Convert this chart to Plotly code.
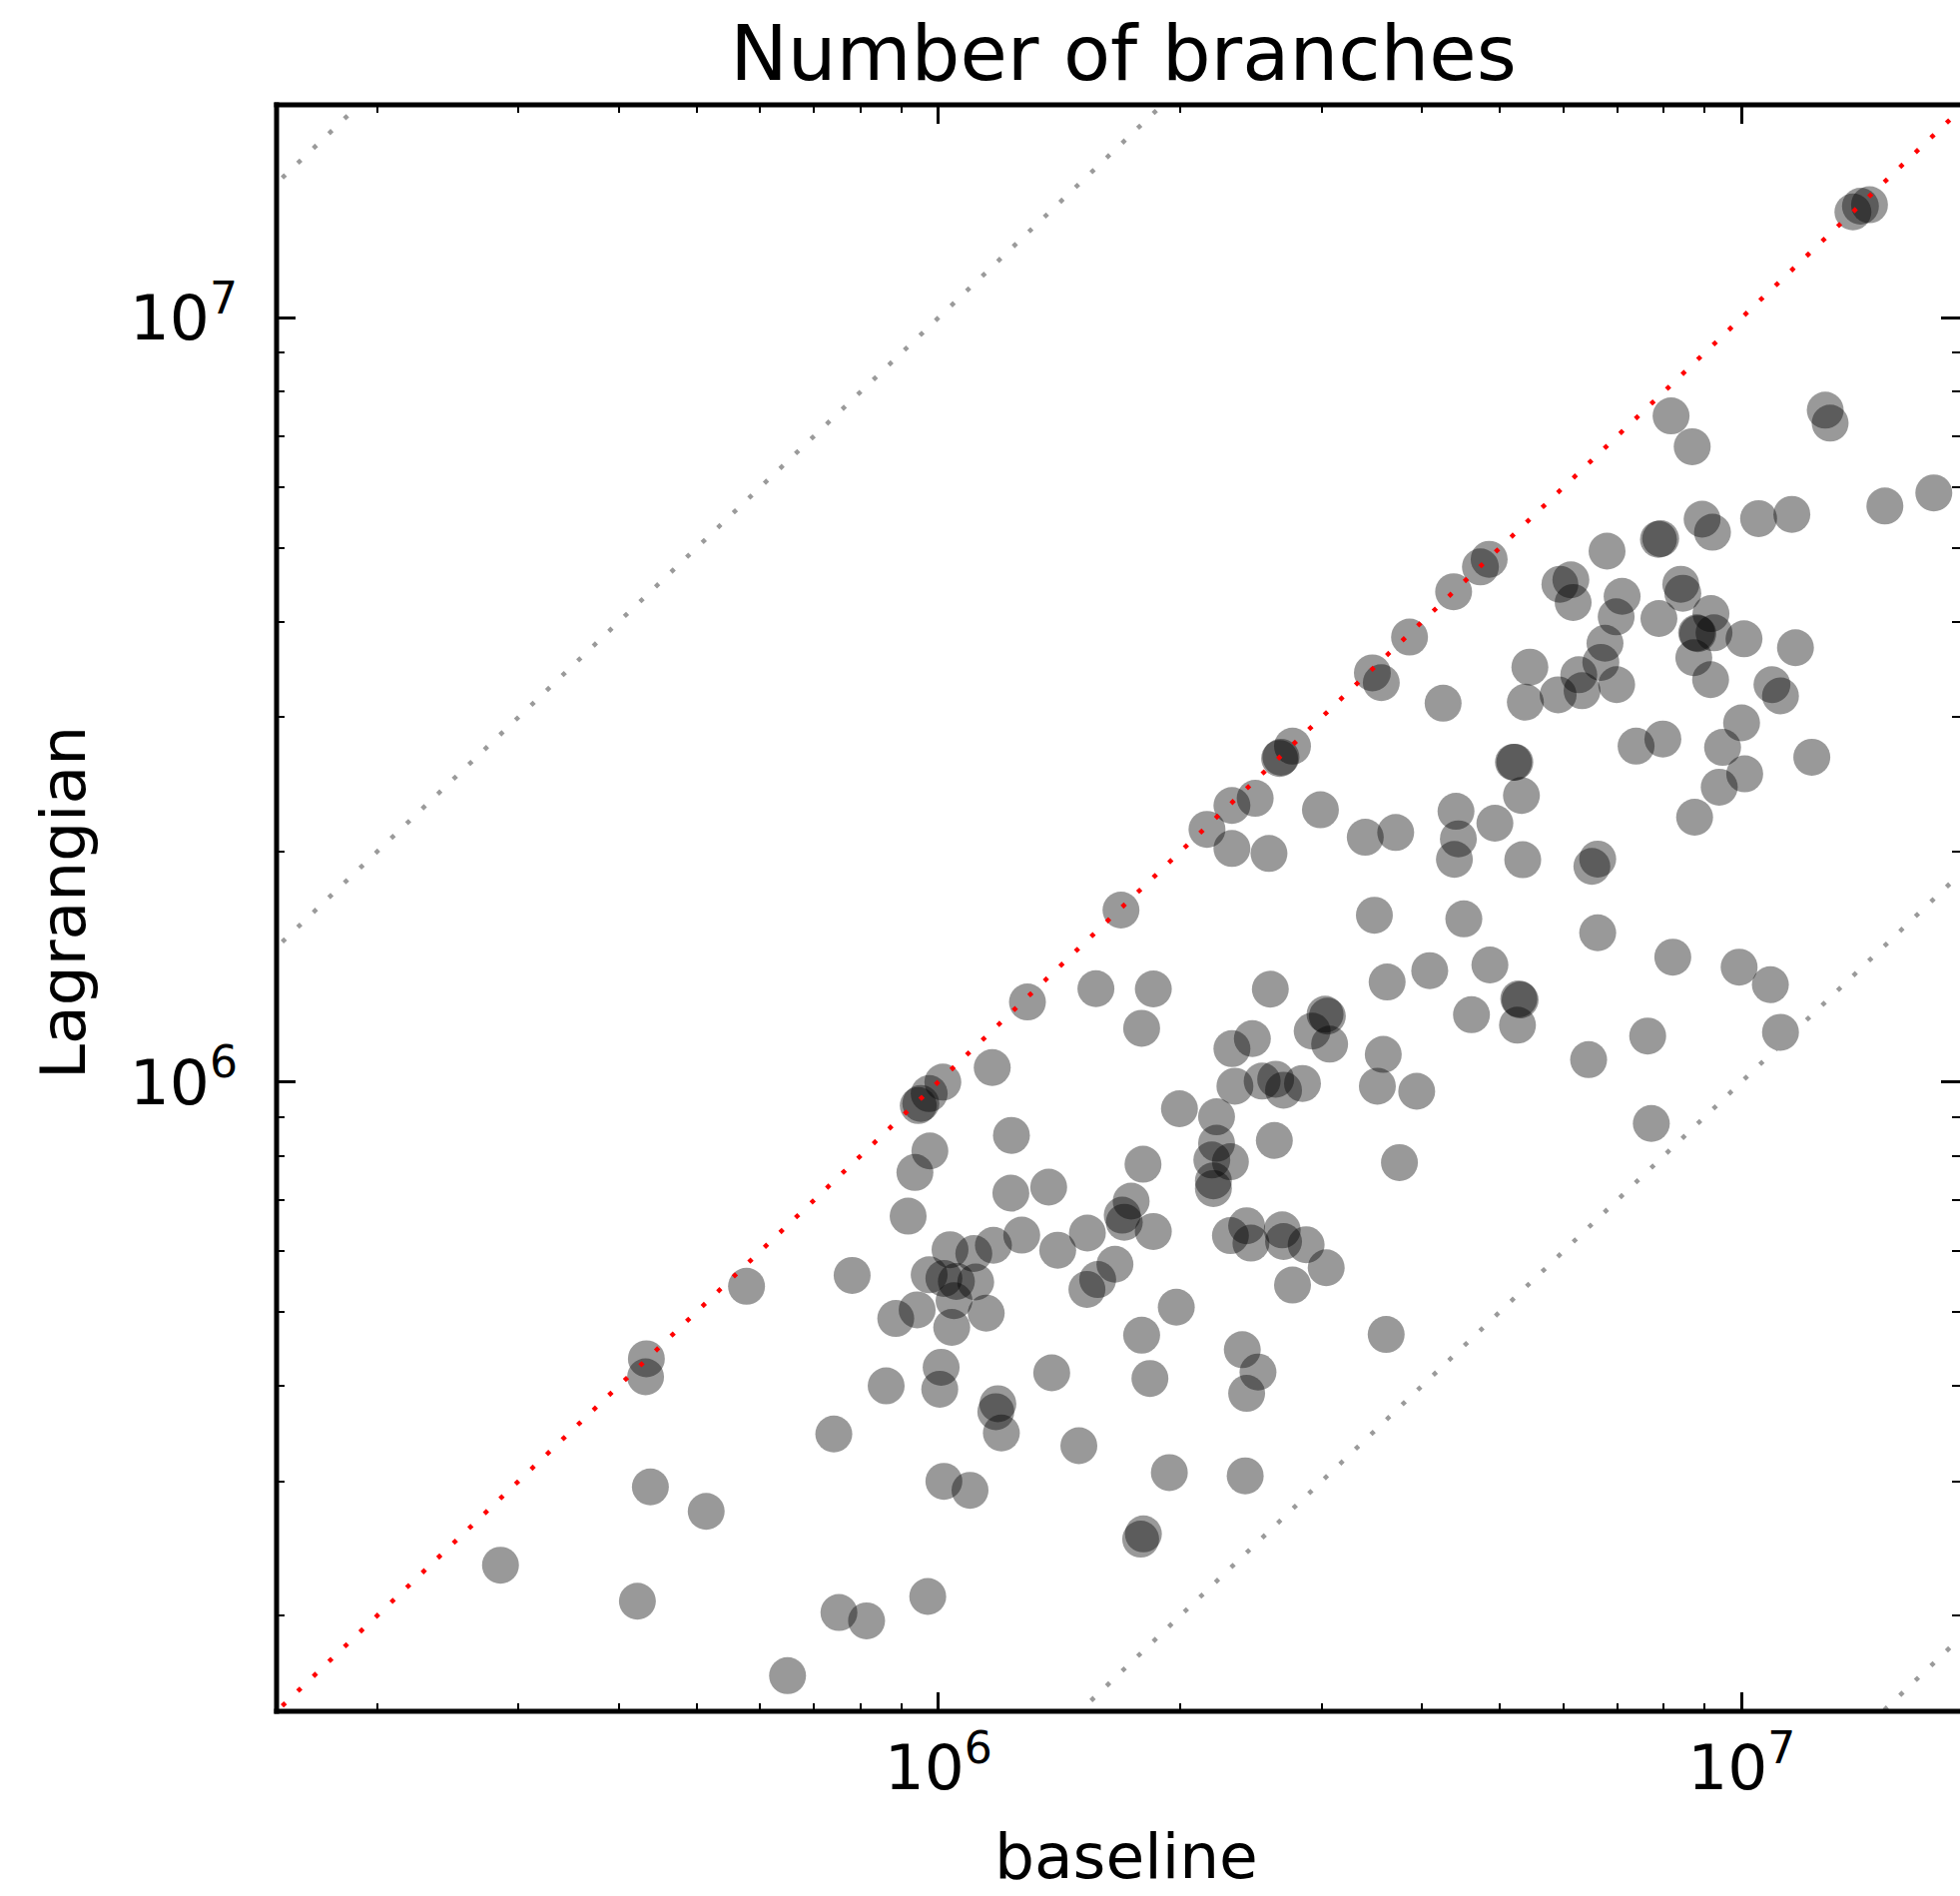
import math
import plotly.graph_objects as go

# ---- data ----
baseline = [
    1.376e7, 1.406e7, 1.443e7,
    8.17e6, 8.68e6, 1.271e7, 1.289e7, 1.735e7, 1.508e7, 1.155e7, 1.050e7, 8.93e6, 9.20e6,
    7.88e6, 7.93e6, 6.80e6, 4.85e6, 4.73e6, 4.38e6, 6.13e6, 5.94e6, 6.17e6, 7.10e6,
    6.98e6, 7.89e6, 8.40e6, 8.45e6, 9.16e6, 8.79e6, 8.82e6, 9.24e6, 8.72e6, 1.007e7,
    1.167e7, 9.15e6, 6.76e6, 6.68e6, 6.27e6, 6.99e6, 6.33e6, 5.91e6, 5.38e6, 5.45e6,
    4.25e6, 1.091e7, 1.118e7, 1.000e7, 9.47e6, 1.009e7, 9.38e6, 1.223e7, 8.74e6, 7.39e6,
    7.98e6, 5.22e6, 5.20e6, 5.32e6, 4.41e6, 4.44e6, 4.39e6, 4.93e6, 5.34e6, 6.62e6, 6.51e6,
    3.86e6, 3.47e6, 3.56e6, 2.76e6, 2.67e6, 2.66e6, 2.48e6, 2.32e6, 2.16e6, 2.32e6,
    2.58e6, 2.99e6, 3.40e6, 3.71e6, 1.688e6, 3.49e6, 4.51e6,
    6.62e6, 2.59e6, 3.62e6, 4.09e6, 4.86e6, 5.28e6, 5.30e6, 5.26e6, 4.61e6, 6.45e6,
    3.03e6, 3.05e6, 2.92e6, 3.07e6, 2.46e6, 2.32e6, 2.34e6, 2.53e6, 2.63e6, 2.69e6,
    2.84e6, 3.58e6, 3.52e6, 3.94e6, 1.996e6, 2.22e6, 2.22e6, 2.19e6, 2.31e6, 2.20e6,
    2.20e6, 2.62e6, 3.75e6, 2.31e6, 2.42e6, 2.45e6, 2.68e6, 2.69e6, 2.87e6, 3.04e6,
    2.76e6, 3.61e6,
    1.291e6, 1.571e6, 1.852e6, 1.791e6, 1.167e6, 1.013e6, 9.74e5, 9.51e5, 9.44e5,
    1.233e6, 9.76e5, 9.35e5, 9.17e5, 1.798e6, 1.738e6, 1.694e6, 1.704e6, 1.852e6,
    1.372e6, 1.231e6, 1.533e6, 1.270e6, 1.171e6, 1.107e6, 1.034e6, 1.408e6, 1.659e6,
    5.77e5, 7.81e5, 9.74e5, 1.016e6, 1.053e6, 1.113e6, 1.046e6, 1.147e6, 9.41e5,
    8.85e5, 1.039e6, 1.579e6, 1.531e6, 1.978e6, 1.791e6, 1.834e6, 1.384e6, 1.186e6,
    1.179e6, 1.198e6, 1.008e6, 1.004e6, 8.61e5, 7.41e5, 1.496e6, 1.939e6, 1.016e6,
    1.095e6, 1.800e6, 1.786e6, 5.14e5,
    4.33e5, 4.32e5, 4.38e5, 2.85e5, 4.22e5, 6.49e5, 7.52e5, 8.14e5, 9.70e5,
    8.21e6, 9.93e6, 1.086e7, 1.118e7, 7.64e6, 7.72e6, 2.41e6, 2.39e6, 2.50e6, 2.42e6,
]
lagrangian = [
    1.376e7, 1.400e7, 1.406e7,
    7.44e6, 6.78e6, 7.57e6, 7.28e6, 5.90e6, 5.67e6, 5.53e6, 5.46e6, 5.45e6, 5.24e6,
    5.13e6, 5.14e6, 4.95e6, 4.83e6, 4.72e6, 4.38e6, 4.54e6, 4.48e6, 4.24e6, 4.32e6,
    4.06e6, 4.04e6, 4.48e6, 4.36e6, 4.10e6, 3.87e6, 3.86e6, 3.87e6, 3.59e6, 3.80e6,
    3.70e6, 3.36e6, 3.75e6, 3.54e6, 3.41e6, 3.31e6, 3.25e6, 3.21e6, 3.14e6, 3.49e6,
    3.13e6, 3.31e6, 3.20e6, 2.95e6, 2.74e6, 2.53e6, 2.43e6, 2.66e6, 2.22e6, 2.75e6,
    2.81e6, 2.62e6, 2.62e6, 2.37e6, 2.26e6, 2.08e6, 1.955e6, 2.18e6, 1.953e6, 1.957e6, 1.914e6,
    3.82e6, 3.43e6, 3.33e6, 2.75e6, 2.66e6, 2.65e6, 2.35e6, 2.30e6, 2.14e6, 2.02e6,
    1.99e6, 2.27e6, 2.09e6, 2.12e6, 1.678e6, 1.652e6, 1.634e6,
    1.567e6, 1.322e6, 1.351e6, 1.398e6, 1.422e6, 1.284e6, 1.280e6, 1.186e6, 1.224e6, 1.069e6,
    1.226e6, 1.219e6, 1.165e6, 1.120e6, 1.139e6, 1.105e6, 9.87e5, 1.002e6, 1.008e6, 9.75e5,
    9.95e5, 1.086e6, 9.87e5, 9.72e5, 9.22e5, 9.00e5, 8.31e5, 7.90e5, 7.86e5, 7.42e5,
    7.25e5, 8.38e5, 7.84e5, 6.29e5, 6.48e5, 6.15e5, 6.40e5, 6.18e5, 6.12e5, 5.71e5,
    5.42e5, 4.67e5,
    1.272e6, 1.324e6, 1.323e6, 1.175e6, 1.044e6, 9.99e5, 9.65e5, 9.37e5, 9.31e5,
    8.51e5, 8.12e5, 7.61e5, 6.67e5, 7.80e5, 6.98e5, 6.69e5, 6.55e5, 6.37e5,
    7.28e5, 7.15e5, 6.34e5, 6.30e5, 6.11e5, 5.96e5, 6.03e5, 6.02e5, 5.77e5,
    5.40e5, 5.58e5, 5.59e5, 5.53e5, 5.48e5, 5.47e5, 5.17e5, 4.98e5, 5.03e5,
    4.90e5, 4.77e5, 5.51e5, 5.35e5, 5.07e5, 4.66e5, 4.09e5, 4.16e5, 3.79e5,
    3.70e5, 3.47e5, 4.23e5, 3.96e5, 4.00e5, 3.46e5, 3.34e5, 3.08e5, 3.00e5,
    2.92e5, 2.56e5, 2.52e5, 2.74e5,
    4.34e5, 4.11e5, 2.95e5, 2.33e5, 2.09e5, 1.67e5, 2.02e5, 1.97e5, 2.12e5,
    1.456e6, 1.413e6, 1.340e6, 1.161e6, 1.148e6, 8.82e5, 3.05e5, 4.46e5, 4.17e5, 3.91e5,
]

axis_limits = [1.5e5, 1.9e7]
ratios = [100, 10, 1, 0.1, 0.01]
ratio_colors = ["#9a9a9a", "#9a9a9a", "#ff0000", "#9a9a9a", "#9a9a9a"]

major_ticks = [1e6, 1e7]
major_text = ["10<sup>6</sup>", "10<sup>7</sup>"]
minor_ticks = [m * 10 ** e for e in (5, 6, 7) for m in range(2, 10)]

FONT = "DejaVu Sans"

# ---- geometry ----
W, H = 1963, 1899
L, T, B = 277, 105, 185
full_right = 1968.5  # where the (cropped) right spine would be
lo, hi = math.log10(axis_limits[0]), math.log10(axis_limits[1])
x_hi_visible = lo + (W - L) / (full_right - L) * (hi - lo)

fig = go.Figure()
fig.add_trace(go.Scatter(
    x=baseline, y=lagrangian, mode="markers",
    marker=dict(size=37, color="rgba(0,0,0,0.4)", line=dict(width=0)),
    hoverinfo="x+y",
))
for r, c in zip(ratios, ratio_colors):
    xs = [axis_limits[0] / 10, axis_limits[1] * 10]
    fig.add_trace(go.Scatter(
        x=xs, y=[r * v for v in xs], mode="lines",
        line=dict(color=c, width=4.5, dash="4.5px,17px"),
        hoverinfo="skip",
    ))

axis_common = dict(
    type="log", tickvals=major_ticks, ticktext=major_text,
    ticks="inside", ticklen=19, tickwidth=2.5, tickcolor="black",
    mirror="ticks", showline=False, showgrid=False, zeroline=False,
    tickfont=dict(family=FONT, size=63, color="black"),
    minor=dict(tickvals=minor_ticks, ticks="inside", ticklen=8, tickwidth=2,
               tickcolor="black", showgrid=False),
    automargin=False,
)

fig.update_layout(
    width=W, height=H,
    margin=dict(l=L, r=0, t=T, b=B, pad=0),
    paper_bgcolor="white", plot_bgcolor="white",
    showlegend=False,
    font=dict(family=FONT, color="black"),
    title=dict(text="Number of branches", font=dict(family=FONT, size=77, color="black"),
               x=1125 / W, xref="container", xanchor="center",
               y=1 - 53.5 / H, yref="container", yanchor="middle"),
    xaxis=dict(range=[lo, x_hi_visible], ticklabelstandoff=14, **axis_common),
    yaxis=dict(range=[lo, hi], ticklabelstandoff=38, **axis_common),
)

plot_w = W - L
plot_h = H - T - B
ex_y = 2.5 / plot_h
ex_x = 2.5 / plot_w
spine = dict(type="line", xref="paper", yref="paper", line=dict(color="black", width=5), layer="above")
fig.add_shape(x0=0, x1=0, y0=-ex_y, y1=1 + ex_y, **spine)
fig.add_shape(x0=-ex_x, x1=1.01, y0=1, y1=1, **spine)
fig.add_shape(x0=-ex_x, x1=1.01, y0=0, y1=0, **spine)

fig.add_annotation(text="baseline", xref="paper", yref="paper",
                   x=(1128 - L) / plot_w, y=((H - B) - 1898) / plot_h,
                   xanchor="center", yanchor="bottom", showarrow=False,
                   font=dict(family=FONT, size=63, color="black"))
fig.add_annotation(text="Lagrangian", xref="paper", yref="paper",
                   x=(63 - L) / plot_w, y=((H - B) - 904) / plot_h,
                   textangle=-90, xanchor="center", yanchor="middle", showarrow=False,
                   font=dict(family=FONT, size=63, color="black"))

fig.write_html("out.html")
